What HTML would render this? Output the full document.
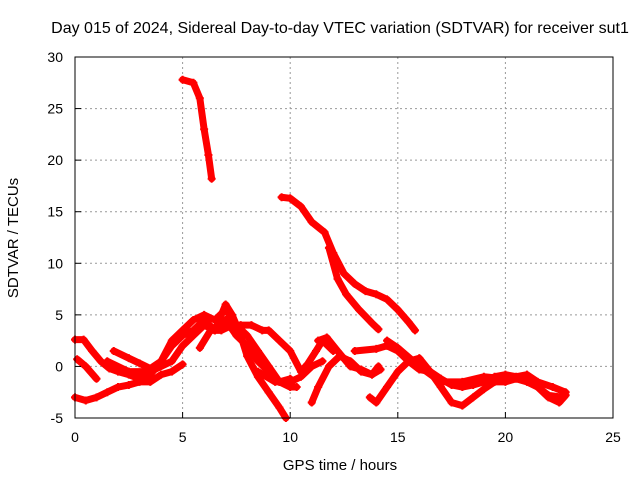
<!DOCTYPE html>
<html><head><meta charset="utf-8"><style>
body{margin:0;background:#fff;width:640px;height:480px;overflow:hidden}
svg text{font-family:"Liberation Sans",sans-serif;font-size:14px;fill:#000}
</style></head><body>
<svg id="chart" width="640" height="480">
<text x="340" y="33" text-anchor="middle" style="font-size:16px">Day 015 of 2024, Sidereal Day-to-day VTEC variation (SDTVAR) for receiver sut1</text>
<text x="340" y="470" text-anchor="middle" style="font-size:15px">GPS time / hours</text>
<text transform="translate(18,238) rotate(-90)" text-anchor="middle" style="font-size:15px">SDTVAR / TECUs</text>
<g id="grid"></g><g id="marks"></g><g id="axes"></g>
</svg>
<script>
const xTicks=[0,5,10,15,20,25];
const yTicks=[-5,0,5,10,15,20,25,30];
const trackA=[[5.0,27.8],[5.5,27.5],[5.8,26],[6.0,23],[6.2,20.5],[6.35,18.2]];
const trackB=[[9.6,16.4],[10.0,16.3],[10.5,15.5],[11.0,14],[11.6,13],[12.0,11],[12.5,9],[13.0,8],[13.5,7.3],[14.0,7],[14.5,6.5],[15.0,5.5],[15.5,4.3],[15.8,3.5]];
const trackC=[[11.8,11.5],[12.2,8.5],[12.6,7],[13.2,5.5],[13.8,4.2],[14.1,3.6]];
const trackD=[[0,-3],[0.5,-3.3],[1.0,-3],[1.5,-2.5],[2.0,-2],[2.5,-1.8],[3.0,-1.5],[3.5,-1.5],[4.0,-0.8],[4.5,-0.5],[5.0,0.2]];
const trackE=[[0,2.6],[0.4,2.6],[0.8,1.5],[1.2,0.5],[1.6,-0.2],[2.0,-0.5],[2.5,-0.8],[3.0,-1.2],[3.5,-0.8],[4.0,0.5],[4.5,2.5],[5.0,3.5],[5.5,4.5],[6.0,5.0],[6.5,4.5],[7.0,5.5],[7.5,4],[8.0,3],[8.5,1.5],[9.0,0],[9.5,-1.5],[10.0,-1.2]];
const trackF=[[0.1,0.7],[0.5,0],[1.0,-1.2]];
const trackG=[[1.8,1.5],[2.5,0.8],[3.0,0.3],[3.5,-0.2],[4.0,0.5],[4.5,2],[5.0,3],[5.5,3.5],[6.0,4.5],[6.5,3.5],[7.0,6],[7.3,5],[7.7,3],[8.0,1],[8.5,-1],[9.0,-2.5],[9.5,-4],[9.8,-5]];
const trackH=[[1.5,0.5],[2.5,-0.5],[3.5,-0.5],[4.5,0.5],[5.0,2],[5.5,3],[6.0,4],[6.5,3.5],[7.0,4.5],[7.5,3],[8.0,2],[8.5,0.5],[9.0,-0.5],[9.5,-1.5],[10,-2],[10.3,-2]];
const trackI=[[5.8,1.8],[6.3,3.5],[6.8,3.5],[7.3,4],[7.7,4],[8.2,4],[8.7,3.5],[9.0,3.5],[9.5,2.5],[10,1.5],[10.5,-0.5],[10.8,0.2],[11.2,1.5],[11.5,2.5],[12,1.5]];
const trackJ=[[11.0,-3.5],[11.3,-2],[11.8,0],[12.3,1],[12.8,0.5],[13.3,-0.5],[13.8,-0.8],[14.1,0]];
const trackK=[[11.3,2.5],[11.7,2.8],[12.2,1.5],[12.8,0],[13.3,-0.3],[13.8,-0.8],[14.2,-0.3]];
const trackL=[[13.7,-3],[14.0,-3.5],[14.5,-2],[15.0,-0.5],[15.5,0.5],[16.0,0.8],[16.5,-0.5],[17,-2],[17.5,-3.5],[18.0,-3.8],[18.5,-3],[19,-2.2],[19.5,-1.5],[20,-1.5],[20.5,-1.2],[21,-1.5],[21.5,-2],[22,-2.8],[22.7,-3]];
const trackM=[[13.0,1.5],[14.0,1.7],[14.5,2],[15,1.5],[15.5,0.5],[16,-0.3],[16.5,-0.5],[17,-1.2],[17.5,-1.8],[18,-2],[18.5,-1.8],[19,-1.5],[19.5,-1],[20,-0.8],[20.5,-1],[21,-1.2],[21.5,-2],[22,-3],[22.5,-3.5],[22.8,-2.8]];
const trackN=[[14.5,2.5],[15,1.8],[16,0],[17,-1.5],[18,-1.5],[19,-1],[20,-1.2],[21,-0.8],[21.5,-1.5],[22.2,-2],[22.8,-2.5]];
const trackO=[[8.5,-0.5],[9.3,-1.5],[10,-1.5],[10.5,-1],[11,0],[11.5,0.5]];
const tracks=[trackA,trackB,trackC,trackD,trackE,trackF,trackG,trackH,trackI,trackJ,trackK,trackL,trackM,trackN,trackO];

const X0=75,X1=613,Y0=418,Y1=57;
const xs=v=>X0+(v-0)/(25-0)*(X1-X0);
const ys=v=>Y0-(v+5)/(35)*(Y0-Y1);
const NS='http://www.w3.org/2000/svg';
function mk(tag,attrs,parent){const e=document.createElementNS(NS,tag);for(const k in attrs)e.setAttribute(k,attrs[k]);parent.appendChild(e);return e;}
const grid=document.getElementById('grid'),marks=document.getElementById('marks'),axes=document.getElementById('axes');
xTicks.forEach(t=>{
  if(t>0&&t<25){const g=mk('line',{x1:xs(t),x2:xs(t),y1:Y1,y2:Y0,stroke:'#999','stroke-dasharray':'2,3'},grid);
  
  }
  const tk=mk('line',{x1:xs(t),x2:xs(t),y1:Y0,y2:Y0-6,stroke:'#000'},axes);
  
  
  const tx=mk('text',{x:xs(t),y:Y0+24,'text-anchor':'middle'},axes);tx.textContent=t;
  
  
});
yTicks.forEach(t=>{
  if(t>-5&&t<30){const g=mk('line',{x1:X0,x2:X1,y1:ys(t),y2:ys(t),stroke:'#999','stroke-dasharray':'2,3'},grid);
  
  }
  const tk=mk('line',{x1:X0,x2:X0+6,y1:ys(t),y2:ys(t),stroke:'#000'},axes);
  
  
  const tx=mk('text',{x:X0-12,y:ys(t)+5,'text-anchor':'end'},axes);tx.textContent=t;
  
  
});
const frame=mk('rect',{x:X0,y:Y1,width:X1-X0,height:Y0-Y1,fill:'none',stroke:'#000'},axes);


tracks.forEach((tr,i)=>{
  const pl=mk('polyline',{points:tr.map(p=>xs(p[0])+','+ys(p[1])).join(' '),fill:'none',stroke:'#f00','stroke-width':7,'stroke-linejoin':'round','stroke-linecap':'round'},marks);
  
  
  tr.forEach(p=>{
    const x=xs(p[0]),y=ys(p[1]);
    const m=mk('path',{d:`M${x-4},${y}H${x+4}M${x},${y-4}V${y+4}`,stroke:'#f00','stroke-width':2},marks);
    
    
  });
});
</script>
</body></html>
